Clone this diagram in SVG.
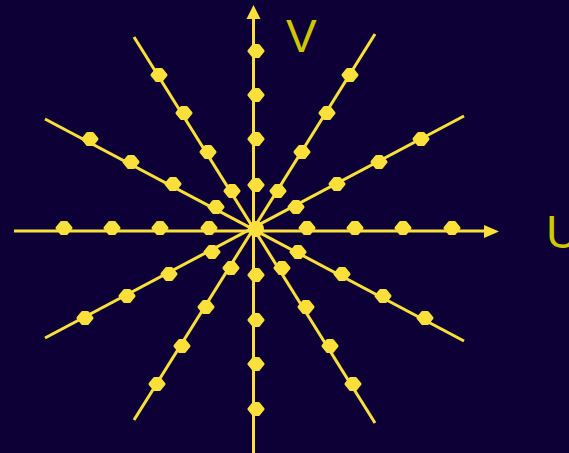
<svg xmlns="http://www.w3.org/2000/svg" width="569" height="453" viewBox="0 0 569 453">
<defs>
<style>
.ln{stroke:#fbe03c;stroke-width:3;fill:none}
.mk{fill:#fbe03c;stroke:#fbe03c;stroke-width:3;stroke-linejoin:round}
.lbl{font-family:"Liberation Sans",Arial,sans-serif;font-size:46px;fill:#cfc800}
</style>
<polygon id="m" points="-7,0 -2.5,-5.5 2.5,-5.5 7,0 2.5,5.5 -2.5,5.5"/>
</defs>
<rect width="569" height="453" fill="#0c0037"/>
<g id="connectors">
<line class="ln" x1="14" y1="231" x2="486" y2="231"/>
<polygon fill="#fbe03c" points="484,225 499,231.5 484,238"/>
<line class="ln" x1="253.5" y1="453" x2="253.5" y2="17"/>
<polygon fill="#fbe03c" points="246.5,19 253.5,5 260.5,19"/>
<line class="ln" x1="45" y1="119" x2="464" y2="341"/>
<line class="ln" x1="464" y1="116" x2="45" y2="338"/>
<line class="ln" x1="134" y1="37" x2="375" y2="423"/>
<line class="ln" x1="375" y1="34" x2="134" y2="420"/>
</g>
<g id="center"><circle cx="256" cy="229" r="8" fill="#fbe03c"/></g>
<g id="markers" class="mk">
<use href="#m" x="64" y="228"/><use href="#m" x="112" y="228"/><use href="#m" x="160" y="228"/><use href="#m" x="209" y="228"/>
<use href="#m" x="307" y="228"/><use href="#m" x="355" y="228"/><use href="#m" x="403" y="228"/><use href="#m" x="452" y="228"/>
<use href="#m" x="256" y="51"/><use href="#m" x="256" y="95"/><use href="#m" x="256" y="139"/><use href="#m" x="256" y="185"/>
<use href="#m" x="256" y="275"/><use href="#m" x="256" y="320"/><use href="#m" x="256" y="364"/><use href="#m" x="256" y="409"/>
<use href="#m" x="90" y="139"/><use href="#m" x="131" y="162"/><use href="#m" x="173" y="184"/><use href="#m" x="216" y="207"/>
<use href="#m" x="421" y="139"/><use href="#m" x="379" y="162"/><use href="#m" x="337" y="184"/><use href="#m" x="296" y="207"/>
<use href="#m" x="85" y="318"/><use href="#m" x="127" y="296"/><use href="#m" x="169" y="274"/><use href="#m" x="212" y="252"/>
<use href="#m" x="425" y="318"/><use href="#m" x="383" y="296"/><use href="#m" x="342" y="274"/><use href="#m" x="298" y="252"/>
<use href="#m" x="159" y="75"/><use href="#m" x="184" y="113"/><use href="#m" x="208" y="152"/><use href="#m" x="232" y="191"/>
<use href="#m" x="350" y="75"/><use href="#m" x="327" y="113"/><use href="#m" x="302" y="152"/><use href="#m" x="278" y="191"/>
<use href="#m" x="157" y="384"/><use href="#m" x="182" y="346"/><use href="#m" x="206" y="307"/><use href="#m" x="231" y="268"/>
<use href="#m" x="353" y="384"/><use href="#m" x="330" y="346"/><use href="#m" x="306" y="307"/><use href="#m" x="282" y="268"/>
</g>
<g id="labels">
<text class="lbl" x="286" y="52">V</text>
<text class="lbl" x="546" y="248">U</text>
</g>
</svg>
